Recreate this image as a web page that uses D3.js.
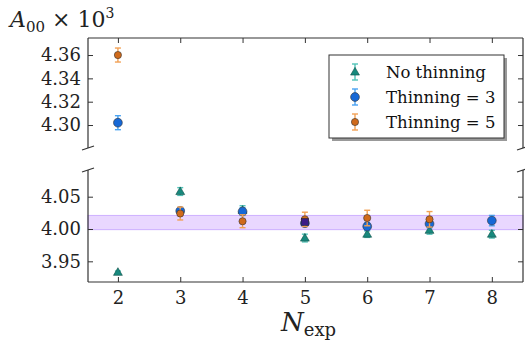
<!DOCTYPE html>
<html>
<head>
<meta charset="utf-8">
<script src="https://cdn.jsdelivr.net/npm/d3@7"></script>
<style>
  body { margin: 0; background: #fff; }
  text { font-family: "DejaVu Serif", serif !important; }
</style>
</head>
<body>
<div id="chart"></div>
<script>
// data
var nExp = [2, 3, 4, 5, 6, 7, 8];
var noThin = [3.933, 4.058, 4.029, 3.986, 3.992, 3.998, 3.992];
var noThinErr = [0.002, 0.006, 0.007, 0.006, 0.005, 0.006, 0.006];
var thin3 = [4.302, 4.028, 4.027, 4.009, 4.004, 4.008, 4.013];
var thin3Err = [0.006, 0.005, 0.006, 0.005, 0.006, 0.006, 0.008];
var thin5 = [4.360, 4.024, 4.012, 4.015, 4.017, 4.015, null];
var thin5Err = [0.006, 0.010, 0.010, 0.011, 0.012, 0.012, null];
var extraN = [5];
var extraV = [4.011];
var band = [3.999, 4.021];
var topTicks = [4.30, 4.32, 4.34, 4.36];
var botTicks = [3.95, 4.00, 4.05];

var width = 525, height = 344;
var left = 88, right = 523;
var svg = d3.select("#chart").append("svg")
  .attr("width", width).attr("height", height);

var x = d3.scaleLinear().domain([1.52, 8.5]).range([left, right]);
var yTop = d3.scaleLinear().domain([4.2803, 4.3746]).range([148, 38]);
var yBot = d3.scaleLinear().domain([3.918, 4.0913]).range([282, 170]);

// band
svg.append("rect")
  .attr("x", left).attr("width", right - left)
  .attr("y", yBot(band[1])).attr("height", yBot(band[0]) - yBot(band[1]))
  .attr("fill", "#cfa6ff").attr("fill-opacity", 0.45)
  .attr("stroke", "#b48aff").attr("stroke-opacity", 0.6).attr("stroke-width", 1);

// axes (inward ticks)
function styleAxis(g) {
  g.select(".domain").remove();
  g.selectAll(".tick line").attr("stroke", "#333").attr("stroke-width", 1);
  g.selectAll(".tick text").attr("font-size", 18).attr("fill", "#222");
}
var fmt = d3.format(".2f");
svg.append("g").attr("transform", "translate(" + left + ",0)")
  .call(d3.axisLeft(yTop).tickValues(topTicks).tickFormat(fmt).tickSize(-5).tickPadding(7))
  .call(styleAxis);
svg.append("g").attr("transform", "translate(" + left + ",0)")
  .call(d3.axisLeft(yBot).tickValues(botTicks).tickFormat(fmt).tickSize(-5).tickPadding(7))
  .call(styleAxis);
svg.append("g").attr("transform", "translate(" + right + ",0)")
  .call(d3.axisRight(yTop).tickValues(topTicks).tickSize(-5).tickFormat(""))
  .call(styleAxis);
svg.append("g").attr("transform", "translate(" + right + ",0)")
  .call(d3.axisRight(yBot).tickValues(botTicks).tickSize(-5).tickFormat(""))
  .call(styleAxis);
svg.append("g").attr("transform", "translate(0,282)")
  .call(d3.axisBottom(x).tickValues(nExp).tickFormat(d3.format("d")).tickSize(-5).tickPadding(9))
  .call(styleAxis);
svg.append("g").attr("transform", "translate(0,38)")
  .call(d3.axisTop(x).tickValues(nExp).tickSize(-5).tickFormat(""))
  .call(styleAxis);

// spines
var spines = [
  [left, 38, left, 148], [right, 38, right, 148], [left, 38, right, 38],
  [left, 170, left, 282], [right, 170, right, 282], [left, 282, right, 282]
];
svg.selectAll(".spine").data(spines).enter().append("line")
  .attr("x1", d => d[0]).attr("y1", d => d[1]).attr("x2", d => d[2]).attr("y2", d => d[3])
  .attr("stroke", "#333").attr("stroke-width", 1.2);

// break marks
var breaks = [[left, 148], [right, 148], [left, 170], [right, 170]];
svg.selectAll(".brk").data(breaks).enter().append("line")
  .attr("x1", d => d[0] - 6).attr("y1", d => d[1] + 2)
  .attr("x2", d => d[0] + 6).attr("y2", d => d[1] - 2)
  .attr("stroke", "#333").attr("stroke-width", 1.2);

var series = [
  { name: "No thinning", vals: noThin, errs: noThinErr, shape: "tri", fill: "#17897d", bar: "#52c3b8" },
  { name: "Thinning = 3", vals: thin3, errs: thin3Err, shape: "big", fill: "#1668d6", bar: "#4aa3f2" },
  { name: "Thinning = 5", vals: thin5, errs: thin5Err, shape: "small", fill: "#d06a1a", bar: "#f2a155" }
];

function drawMarker(g, s, cx, cy) {
  if (s.shape === "tri") {
    g.append("path")
      .attr("d", d3.symbol().type(d3.symbolTriangle).size(34)())
      .attr("transform", "translate(" + cx + "," + (cy + 0.5) + ")")
      .attr("fill", s.fill).attr("stroke", "#0d4d46").attr("stroke-width", 0.6);
  } else {
    g.append("circle").attr("cx", cx).attr("cy", cy)
      .attr("r", s.shape === "big" ? 4.4 : 3.6)
      .attr("fill", s.fill).attr("stroke", "#333").attr("stroke-width", 0.6);
  }
}

function drawErr(g, s, cx, y1, y2) {
  g.append("line").attr("x1", cx).attr("x2", cx).attr("y1", y1).attr("y2", y2)
    .attr("stroke", s.bar).attr("stroke-width", 1.4);
  [y1, y2].forEach(function (yy) {
    g.append("line").attr("x1", cx - 3).attr("x2", cx + 3).attr("y1", yy).attr("y2", yy)
      .attr("stroke", s.bar).attr("stroke-width", 1.4);
  });
}

var pts = svg.append("g");
series.forEach(function (s) {
  nExp.forEach(function (n, i) {
    var v = s.vals[i];
    if (v == null) return;
    var e = s.errs[i];
    var sc = v > 4.2 ? yTop : yBot;
    drawErr(pts, s, x(n), sc(v - e), sc(v + e));
    drawMarker(pts, s, x(n), sc(v));
  });
});

// dark square seen at N = 5
pts.selectAll(".extra").data(extraN).enter().append("rect")
  .attr("x", d => x(d) - 3.5).attr("y", (d, i) => yBot(extraV[i]) - 3.5)
  .attr("width", 7).attr("height", 7)
  .attr("fill", "#3b1d86").attr("stroke", "#222").attr("stroke-width", 0.5);

// legend
var lg = svg.append("g");
lg.append("rect").attr("x", 332).attr("y", 58).attr("width", 175).attr("height", 83)
  .attr("fill", "#999");
lg.append("rect").attr("x", 329).attr("y", 55).attr("width", 175).attr("height", 83)
  .attr("fill", "#fff").attr("stroke", "#333").attr("stroke-width", 1);
series.forEach(function (s, i) {
  var ly = 72 + i * 25;
  drawErr(lg, s, 355, ly - 8, ly + 8);
  drawMarker(lg, s, 355, ly);
  lg.append("text").attr("x", 386).attr("y", ly + 6)
    .attr("fill", "#111").attr("font-size", 16.5).text(s.name);
});

// axis titles
var yl = svg.append("text").attr("x", 10).attr("y", 27).attr("font-size", 22).attr("fill", "#222");
yl.append("tspan").attr("font-style", "italic").text("A");
yl.append("tspan").attr("font-size", 15).attr("dy", 5).text("00");
yl.append("tspan").attr("dy", -5).text(" \u00d7 10");
yl.append("tspan").attr("font-size", 14).attr("dy", -9).text("3");

var xl = svg.append("text").attr("x", 281).attr("y", 331).attr("font-size", 26).attr("fill", "#222");
xl.append("tspan").attr("font-style", "italic").text("N");
xl.append("tspan").attr("font-size", 18).attr("dy", 5).text("exp");
</script>
</body>
</html>
